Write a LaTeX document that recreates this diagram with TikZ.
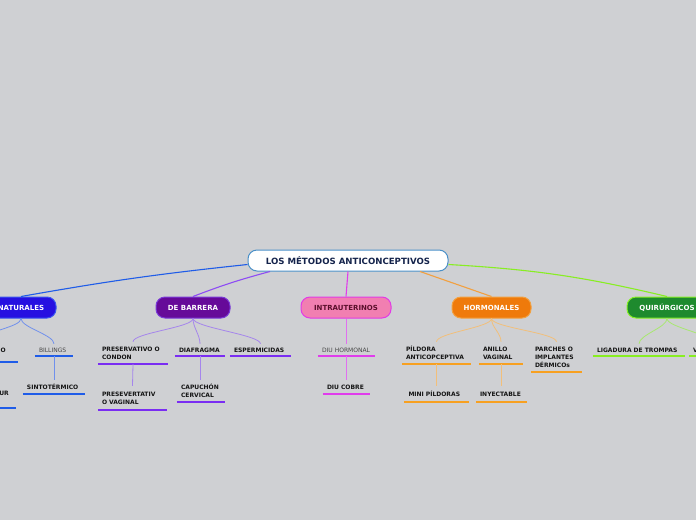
\documentclass[tikz,border=0pt]{standalone}
\usepackage{fontspec}
\setmainfont{DejaVu Sans}
\definecolor{bg}{HTML}{CFD0D3}
\definecolor{rootB}{HTML}{4A90C8}
\definecolor{rootT}{HTML}{14234B}
\definecolor{natF}{HTML}{2610E1}
\definecolor{natB}{HTML}{3A55F0}
\definecolor{natC}{HTML}{1F5CE8}
\definecolor{natL}{HTML}{7090EC}
\definecolor{barF}{HTML}{660A99}
\definecolor{barB}{HTML}{7A3AD8}
\definecolor{barC}{HTML}{7A2DF2}
\definecolor{barL}{HTML}{A585EC}
\definecolor{intF}{HTML}{F17FB1}
\definecolor{intB}{HTML}{E23AE6}
\definecolor{intC}{HTML}{E03CEC}
\definecolor{intL}{HTML}{E070F0}
\definecolor{intT}{HTML}{5B0F2C}
\definecolor{horF}{HTML}{EF7A0B}
\definecolor{horB}{HTML}{F2A040}
\definecolor{horC}{HTML}{F7A021}
\definecolor{horL}{HTML}{F2BF7A}
\definecolor{quiF}{HTML}{1E8A2E}
\definecolor{quiB}{HTML}{86F024}
\definecolor{quiC}{HTML}{88EE22}
\definecolor{quiL}{HTML}{A8E870}
\tikzset{
  lvl/.style={rounded corners=9pt, minimum height=21pt, inner sep=0pt, line width=1pt,
    font=\fontsize{7}{8}\selectfont\bfseries, text=white},
  kid/.style={inner xsep=4pt, inner ysep=0pt, align=left,
    font=\fontsize{6}{8}\selectfont\bfseries, text=black!92},
  kidlight/.style={font=\fontsize{6}{8}\selectfont, text=black!72},
  ul/.style={line width=1.6pt},
  rootline/.style={line width=1.1pt},
  br/.style={line width=0.8pt},
}
\newcommand\kid[8]{%
  \node[kid,#7,text width=#5pt,minimum height={(#4)-(#3)}] (#1) at (#2,{((#3)+(#4))/2}) {#8};
  \draw[ul,#6] (#1.south west) -- (#1.south east);}
\newcommand\brc[3]{\draw[br,#3] (#1.south) .. controls +(0,9) and +(0,-9) .. (#2.north);}
\begin{document}
\begin{tikzpicture}[x=1pt,y=-1pt]
\useasboundingbox (0,0) rectangle (696,520);
\clip (0,0) rectangle (696,520);
\fill[bg] (0,0) rectangle (696,520);

% root
\node[draw=rootB, fill=white, rounded corners=9pt, line width=1pt, minimum width=200pt,
  minimum height=21pt, inner sep=0pt, font=\fontsize{8.6}{10}\selectfont\bfseries, text=rootT]
  (root) at (348,260.5) {LOS MÉTODOS ANTICONCEPTIVOS};

% level 1
\node[lvl, fill=natF, draw=natB, minimum width=70pt] (nat) at (21,307.5) {NATURALES};
\node[lvl, fill=barF, draw=barB, minimum width=74pt] (bar) at (193,307.5) {DE BARRERA};
\node[lvl, fill=intF, draw=intB, minimum width=90pt, text=intT] (intra) at (346,307.5) {INTRAUTERINOS};
\node[lvl, fill=horF, draw=horB, minimum width=79pt] (horm) at (491.5,307.5) {HORMONALES};
\node[lvl, fill=quiF, draw=quiB, minimum width=80pt] (quir) at (667,307.5) {QUIRÚRGICOS};

% root connectors
\draw[rootline,natC] ([yshift=-4pt]root.west) to[bend right=2] (nat.north);
\draw[rootline,barC!85!white] ([xshift=-78pt]root.south) to[bend right=3] (bar.north);
\draw[rootline,intC] (root.south) -- (intra.north);
\draw[rootline,horB] ([xshift=72pt]root.south) -- (horm.north);
\draw[rootline,quiC] ([yshift=-4pt]root.east) to[bend left=5] (quir.north);

% NATURALES children
\node[kid, anchor=east, inner sep=0pt] (nl) at (6,350) {O};
\draw[ul,natC] (-20,362) -- (18,362);
\coordinate (nlt) at (-17,340);
\node[kid, anchor=east, inner sep=0pt] (nl2) at (9,393) {UR};
\draw[ul,natC] (-20,408) -- (16,408);
\kid{bil}{54}{344}{356}{30}{natC}{kidlight}{BILLINGS}
\kid{sint}{54}{380}{394}{54}{natC}{}{SINTOTÉRMICO}
\draw[br,natL] (nat.south) .. controls +(0,9) and +(0,-9) .. (nlt);
\brc{nat}{bil}{natL}
\draw[br,natL] (bil.south) -- (sint.north);

% DE BARRERA children
\kid{pres}{133}{342}{364}{62}{barC}{}{PRESERVATIVO~O\\CONDON}
\kid{diaf}{200}{344}{356}{42}{barC}{}{DIAFRAGMA}
\kid{esp}{260.5}{344}{356}{53}{barC}{}{ESPERMICIDAS}
\kid{presv}{132.5}{386}{410}{61}{barC}{}{PRESEVERTATIV\\O~VAGINAL}
\kid{cap}{201}{380}{402}{40}{barC}{}{CAPUCHÓN\\CERVICAL}
\brc{bar}{pres}{barL}
\brc{bar}{diaf}{barL}
\brc{bar}{esp}{barL}
\draw[br,barL] (pres.south) -- (presv.north);
\draw[br,barL] (diaf.south) -- (diaf.south |- cap.north);

% INTRAUTERINOS children
\kid{diuh}{346.5}{344}{356}{49}{intC}{kidlight}{DIU~HORMONAL}
\kid{diuc}{346.5}{380}{394}{39}{intC}{}{DIU~COBRE}
\draw[br,intL] (intra.south) -- (intra.south |- diuh.north);
\draw[br,intL] (diuh.south) -- (diuc.north);

% HORMONALES children
\kid{pild}{436.5}{342}{364}{61}{horC}{}{PÍLDORA\\ANTICOPCEPTIVA}
\kid{anil}{501}{342}{364}{36}{horC}{}{ANILLO\\VAGINAL}
\kid{parch}{556.5}{342}{372}{43}{horC}{}{PARCHES~O\\IMPLANTES\\DÉRMICOs}
\kid{mini}{436.5}{386}{402}{56}{horC}{}{MINI~PÍLDORAS}
\kid{iny}{501.5}{386}{402}{43}{horC}{}{INYECTABLE}
\brc{horm}{pild}{horL}
\brc{horm}{anil}{horL}
\brc{horm}{parch}{horL}
\draw[br,horL] (pild.south) -- (mini.north);
\draw[br,horL] (anil.south) -- (anil.south |- iny.north);

% QUIRURGICOS children
\kid{lig}{639}{344}{356}{84}{quiC}{}{LIGADURA~DE~TROMPAS}
\kid{vas}{715}{344}{356}{44}{quiC}{}{V}
\brc{quir}{lig}{quiL}
\brc{quir}{vas}{quiL}
\end{tikzpicture}
\end{document}
